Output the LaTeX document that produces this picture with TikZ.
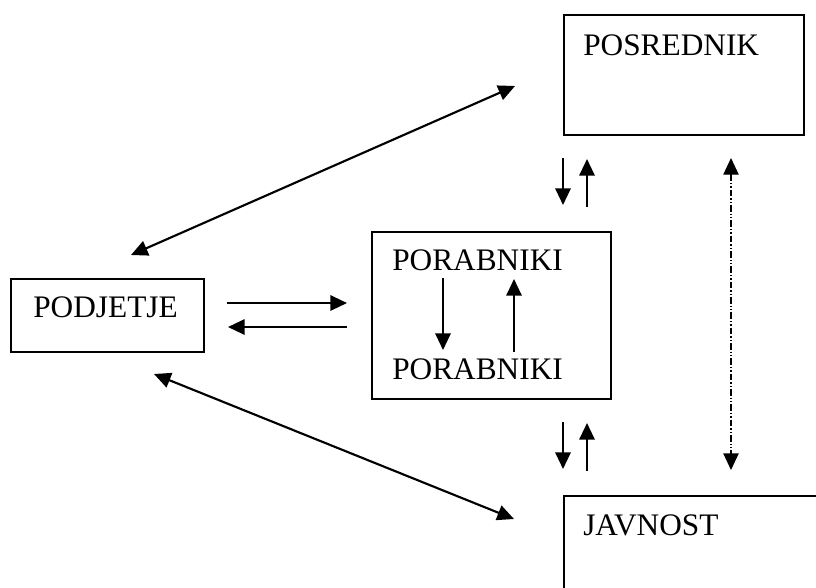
\documentclass[tikz,border=0pt]{standalone}
\usepackage{fontspec}
\setmainfont{Liberation Serif}
\usetikzlibrary{arrows.meta}

\begin{document}
\begin{tikzpicture}[x=0.75pt, y=-0.75pt,
        box/.style={draw, line width=1.6pt, inner sep=0pt, anchor=north west},
        lbl/.style={inner sep=0pt, anchor=base west, font=\fontsize{23.5}{28}\selectfont},
        arr/.style={line width=1.6pt, -{Triangle[length=12.5pt,width=11.5pt]}},
        darr/.style={line width=1.6pt, {Triangle[length=12.5pt,width=11.5pt]}-{Triangle[length=12.5pt,width=11.5pt]}}]
        \clip (0,0) rectangle (816,587);                                       %page
        \node [box, minimum width=180pt, minimum height=90pt] (posrednik) at (563,14) {};   %POSREDNIK
        \node [lbl] (posrednikT) at (583,55) {POSREDNIK};                                %
        \node [box, minimum width=179.25pt, minimum height=125.25pt] (porabniki) at (371,231) {}; %PORABNIKI
        \node [lbl] (porabnikiA) at (392,270) {PORABNIKI};                               %
        \node [lbl] (porabnikiB) at (392,379) {PORABNIKI};                               %
        \node [box, minimum width=144.75pt, minimum height=54.75pt] (podjetje) at (10,278) {};  %PODJETJE
        \node [lbl] (podjetjeT) at (33,317) {PODJETJE};                                  %
        \node [box, minimum width=225pt, minimum height=90pt] (javnost) at (563,495) {};     %JAVNOST
        \node [lbl] (javnostT) at (583,535) {JAVNOST};                                   %

        % free ends of the connectors
        \coordinate (pdA) at (131,255);  \coordinate (psA) at (515,86);
        \coordinate (pdB) at (154,374);  \coordinate (jvA) at (514,519);
        \coordinate (hA) at (227,303);   \coordinate (hB) at (347,303);
        \coordinate (hC) at (347,327);   \coordinate (hD) at (228,327);
        \coordinate (uA) at (563,158);   \coordinate (uB) at (563,205);
        \coordinate (uC) at (587,207);   \coordinate (uD) at (587,159);
        \coordinate (lA) at (563,422);   \coordinate (lB) at (563,469);
        \coordinate (lC) at (587,471);   \coordinate (lD) at (587,423);
        \coordinate (iA) at (443,278);   \coordinate (iB) at (443,350);
        \coordinate (iC) at (514,352);   \coordinate (iD) at (514,279);
        \coordinate (dA) at (731,158);   \coordinate (dB) at (731,470);

        \draw [darr] (pdA) -- (psA);                 %podjetje - posrednik
        \draw [darr] (pdB) -- (jvA);                 %podjetje - javnost
        \draw [arr]  (hA) -- (hB);                   %podjetje -> porabniki
        \draw [arr]  (hC) -- (hD);                   %porabniki -> podjetje
        \draw [arr]  (uA) -- (uB);                   %posrednik -> porabniki
        \draw [arr]  (uC) -- (uD);                   %
        \draw [arr]  (lA) -- (lB);                   %porabniki -> javnost
        \draw [arr]  (lC) -- (lD);                   %
        \draw [arr]  (iA) -- (iB);                   %inside porabniki
        \draw [arr]  (iC) -- (iD);                   %
        \draw [line width=1pt, dash pattern=on 5pt off 1.5pt on 1pt off 1.5pt on 1pt off 1.5pt,
               {Triangle[length=12.5pt,width=11.5pt]}-{Triangle[length=12.5pt,width=11.5pt]}] (dA) -- (dB); %posrednik - javnost
\end{tikzpicture}
\end{document}
